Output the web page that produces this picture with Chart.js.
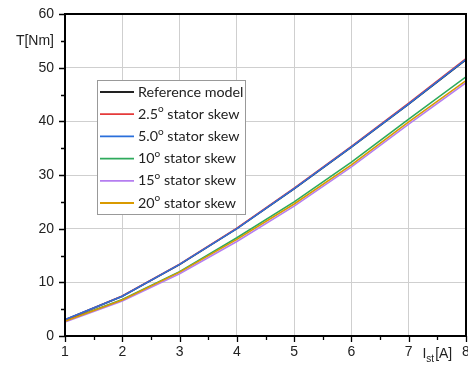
<!DOCTYPE html>
<html>
<head>
<meta charset="utf-8">
<script src="https://cdn.jsdelivr.net/npm/chart.js@4.4.1/dist/chart.umd.min.js"></script>
<style>
  html, body { margin: 0; padding: 0; background: #fff; }
  #wrap { width: 468px; height: 365px; }
</style>
</head>
<body>
<div id="wrap"><canvas id="chart"></canvas></div>
<script>
// stator current [A]
const current = [1, 2, 3, 4, 5, 6, 7, 8];

// torque [Nm] per model
const refModel   = [3.0, 7.40, 13.30, 20.00, 27.40, 35.20, 43.20, 51.50];
const skew2_5    = [3.0, 7.45, 13.40, 20.10, 27.55, 35.35, 43.40, 51.70];
const skew5_0    = [3.05, 7.40, 13.35, 20.00, 27.45, 35.25, 43.25, 51.55];
const skew10     = [2.8, 6.80, 12.00, 18.30, 25.00, 32.40, 40.40, 48.30];
const skew15     = [2.6, 6.50, 11.60, 17.60, 24.20, 31.50, 39.50, 47.20];
const skew20     = [2.75, 6.70, 11.90, 18.00, 24.60, 31.90, 39.90, 47.60];

const seriesNames = [
  "Reference model",
  "2.5° stator skew",
  "5.0° stator skew",
  "10° stator skew",
  "15° stator skew",
  "20° stator skew"
];

const xTickLabels = ["1", "2", "3", "4", "5", "6", "7", "8"];
const yTickLabels = ["0", "10", "20", "30", "40", "50", "60"];
const yTitle = "T[Nm]";

const colors = ["#222222", "#e53a3a", "#2a6fdb", "#2eaa5c", "#b57ef0", "#d99a00"];

const allSeries = [refModel, skew2_5, skew5_0, skew10, skew15, skew20];

// lower order is painted on top
const layer = [2, 1, 0, 2, 1, 0];

const datasets = allSeries.map((s, i) => ({
  label: seriesNames[i],
  data: current.map((x, k) => ({ x: x, y: s[k] })),
  borderColor: colors[i],
  borderWidth: 1.6,
  pointRadius: 0,
  tension: 0,
  fill: false,
  order: layer[i]
}));

const tickFont = { family: "Liberation Sans", size: 14 };

const frame = {
  id: "frame",
  afterDatasetsDraw(chart) {
    const ctx = chart.ctx;
    const a = chart.chartArea;
    const xs = chart.scales.x;
    const ys = chart.scales.y;

    ctx.save();
    ctx.strokeStyle = "#000";

    // box
    ctx.lineWidth = 2;
    ctx.strokeRect(a.left, a.top, a.right - a.left, a.bottom - a.top);

    // ticks
    ctx.lineWidth = 1.3;
    ctx.beginPath();
    for (let v = 0; v <= 60; v += 5) {
      const py = Math.round(ys.getPixelForValue(v)) + 0.5;
      const len = v % 10 === 0 ? 6 : 4;
      ctx.moveTo(a.left - len, py);
      ctx.lineTo(a.left, py);
    }
    for (let v = 1; v <= 8; v += 0.5) {
      const px = Math.round(xs.getPixelForValue(v)) + 0.5;
      const len = Number.isInteger(v) ? 6 : 4;
      ctx.moveTo(px, a.bottom);
      ctx.lineTo(px, a.bottom + len);
    }
    ctx.stroke();

    // x axis title I_st[A] at 7.5
    const tx = xs.getPixelForValue(7.5);
    const ty = a.bottom + 22;
    ctx.fillStyle = "#222";
    ctx.textBaseline = "alphabetic";
    ctx.font = "14px 'Liberation Sans'";
    const wI = ctx.measureText("I").width;
    ctx.font = "10px 'Liberation Sans'";
    const wSub = ctx.measureText("st").width;
    ctx.font = "14px 'Liberation Sans'";
    const wA = ctx.measureText("[A]").width;
    let sx = tx - (wI + wSub + wA + 1) / 2;
    ctx.textAlign = "left";
    ctx.fillText("I", sx, ty);
    sx += wI;
    ctx.font = "10px 'Liberation Sans'";
    ctx.fillText("st", sx, ty + 4);
    sx += wSub + 1;
    ctx.font = "14px 'Liberation Sans'";
    ctx.fillText("[A]", sx, ty);

    // legend
    const lx = a.left + 32;
    const ly = a.top + 66;
    const lw = 148;
    const lh = 134;
    ctx.fillStyle = "#fff";
    ctx.fillRect(lx, ly, lw, lh);
    ctx.strokeStyle = "#999";
    ctx.lineWidth = 1;
    ctx.strokeRect(lx + 0.5, ly + 0.5, lw, lh);

    const rowH = 22.2;
    seriesNames.forEach((name, i) => {
      const cy = ly + 12 + i * rowH;
      ctx.strokeStyle = colors[i];
      ctx.lineWidth = 1.8;
      ctx.beginPath();
      ctx.moveTo(lx + 3, cy);
      ctx.lineTo(lx + 37, cy);
      ctx.stroke();

      ctx.fillStyle = "#222";
      ctx.textBaseline = "middle";
      ctx.textAlign = "left";
      const parts = name.split("°");
      let px = lx + 41;
      ctx.font = "14.3px Lato";
      ctx.fillText(parts[0], px, cy);
      px += ctx.measureText(parts[0]).width;
      if (parts.length > 1) {
        ctx.font = "10px Lato";
        ctx.fillText("o", px, cy - 5);
        px += ctx.measureText("o").width;
        ctx.font = "14.3px Lato";
        ctx.fillText(parts[1], px, cy);
      }
    });

    ctx.restore();
  }
};

new Chart(document.getElementById("chart"), {
  type: "line",
  data: { datasets: datasets },
  options: {
    responsive: true,
    maintainAspectRatio: false,
    animation: false,
    devicePixelRatio: 1,
    layout: { padding: { top: 14, right: 2, left: 0, bottom: 0 } },
    plugins: {
      legend: { display: false },
      tooltip: { enabled: false }
    },
    scales: {
      x: {
        type: "linear",
        min: 1,
        max: 8,
        afterBuildTicks: s => {
          s.ticks = current.map(v => ({ value: v }));
        },
        afterFit: s => {
          s.height = 29;
          s.paddingLeft = 0;
          s.paddingRight = 0;
        },
        ticks: {
          font: tickFont,
          color: "#222",
          padding: 8,
          maxRotation: 0,
          autoSkip: false,
          callback: (v, i) => xTickLabels[i]
        },
        grid: { color: "#cfcfcf", lineWidth: 1, drawTicks: false },
        border: { display: false }
      },
      y: {
        type: "linear",
        min: 0,
        max: 60,
        afterBuildTicks: s => {
          const t = [];
          for (let i = 0; i < yTickLabels.length; i++) t.push({ value: Number(yTickLabels[i]) });
          t.push({ value: 55 });
          s.ticks = t;
        },
        afterFit: s => {
          s.width = 65;
          s.paddingTop = 0;
          s.paddingBottom = 0;
        },
        ticks: {
          font: tickFont,
          color: "#222",
          padding: 11,
          autoSkip: false,
          callback: v => v === 55 ? yTitle : yTickLabels[v / 10]
        },
        grid: {
          color: c => (c.tick && c.tick.value === 55) ? "rgba(0,0,0,0)" : "#cfcfcf",
          lineWidth: 1,
          drawTicks: false
        },
        border: { display: false }
      }
    }
  },
  plugins: [frame]
});
</script>
</body>
</html>
